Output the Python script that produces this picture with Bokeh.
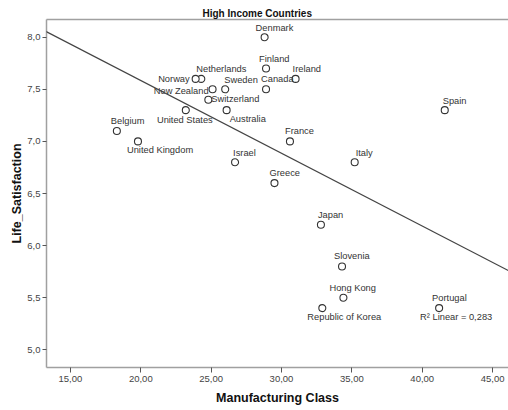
import numpy as np
from bokeh.plotting import figure
from bokeh.models import (ColumnDataSource, LinearAxis, FixedTicker, Slope, Label,
                          CustomJSTickFormatter)
from bokeh.core.properties import value
from bokeh.embed import file_html
from bokeh.resources import INLINE

# --- data -------------------------------------------------------------
countries = ["Denmark", "Finland", "Ireland", "Canada", "Netherlands", "Norway",
             "Sweden", "New Zealand", "Switzerland", "Australia", "United States",
             "Belgium", "United Kingdom", "Israel", "France", "Italy", "Greece",
             "Spain", "Japan", "Slovenia", "Hong Kong", "Republic of Korea", "Portugal"]
manufacturing = [28.8, 28.9, 31.0, 28.9, 24.3, 23.9,
                 26.0, 25.1, 24.8, 26.1, 23.2,
                 18.3, 19.8, 26.7, 30.6, 35.2, 29.5,
                 41.6, 32.8, 34.3, 34.4, 32.9, 41.2]
life_satisfaction = [8.0, 7.7, 7.6, 7.5, 7.6, 7.6,
                     7.5, 7.5, 7.4, 7.3, 7.3,
                     7.1, 7.0, 6.8, 7.0, 6.8, 6.6,
                     7.3, 6.2, 5.8, 5.5, 5.4, 5.4]
x_ticks = [15, 20, 25, 30, 35, 40, 45]
y_ticks = [5.0, 5.5, 6.0, 6.5, 7.0, 7.5, 8.0]
r2_text = "R\u00b2 Linear = 0,283"

# --- label placement (pixel offsets from each point) ------------------
label_layout = {
    "Denmark": (-9, -9, "left"), "Finland": (-7, -9, "left"),
    "Ireland": (-3, -10, "left"), "Canada": (-5, -10, "left"),
    "Netherlands": (-5, -10, "left"), "Norway": (-6, 0, "right"),
    "Sweden": (-1, -9, "left"), "New Zealand": (-4, 2, "right"),
    "Switzerland": (3, -1, "left"), "Australia": (3, 9, "left"),
    "United States": (-1, 10, "center"), "Belgium": (-6, -10, "left"),
    "United Kingdom": (-11, 9, "left"), "Israel": (-2, -9, "left"),
    "France": (-5, -10, "left"), "Italy": (1, -9, "left"),
    "Greece": (-5, -10, "left"), "Spain": (-2, -9, "left"),
    "Japan": (-3, -10, "left"), "Slovenia": (-8, -10, "left"),
    "Hong Kong": (-14, -10, "left"), "Republic of Korea": (-15, 9, "left"),
    "Portugal": (-7, -10, "left"),
}

FONT = "Liberation Sans"
AXIS_GREY = "#a0a0a0"
INK = "#333333"

src = ColumnDataSource(dict(
    name=countries, x=manufacturing, y=life_satisfaction,
    dx=[label_layout[c][0] for c in countries],
    dy=[label_layout[c][1] for c in countries],
    align=[label_layout[c][2] for c in countries],
))

p = figure(width=508, height=410, output_backend="svg", toolbar_location=None,
           x_range=(13.3, 46.13), y_range=(4.83, 8.17),
           min_border_left=46, min_border_right=0, min_border_top=19,
           min_border_bottom=43, background_fill_color="white",
           border_fill_color="white", outline_line_color=None)

p.title.text = "High Income Countries"
p.title.text_font = FONT
p.title.text_font_size = "10px"
p.title.text_font_style = "bold"
p.title.text_color = "#111111"
p.title.align = "left"
p.title.offset = 156
p.title.standoff = 1

p.xgrid.grid_line_color = None
p.ygrid.grid_line_color = None

xa = p.below[0]
ya = p.left[0]

for ax in (xa, ya):
    ax.axis_line_color = AXIS_GREY
    ax.axis_line_width = 1.5
    ax.major_tick_line_color = "#555555"
    ax.major_tick_in = 0
    ax.minor_tick_line_color = None
    ax.major_label_text_font = FONT
    ax.major_label_text_font_size = "9.5px"
    ax.major_label_text_color = "#444444"
    ax.axis_label_text_font = FONT
    ax.axis_label_text_font_size = "12.5px"
    ax.axis_label_text_font_style = "bold"
    ax.axis_label_text_color = "#111111"

xa.ticker = FixedTicker(ticks=x_ticks)
ya.ticker = FixedTicker(ticks=y_ticks)
xa.formatter = CustomJSTickFormatter(code="return tick.toFixed(2).replace('.', ',');")
ya.formatter = CustomJSTickFormatter(code="return tick.toFixed(1).replace('.', ',');")
xa.major_tick_out = 5
ya.major_tick_out = 4
xa.major_label_standoff = 3
ya.major_label_standoff = 2
xa.axis_label = "Manufacturing Class"
ya.axis_label = "Life_Satisfaction"
xa.axis_label_standoff = 6
ya.axis_label_standoff = 0

# top frame line drawn as a bare axis
top = LinearAxis(ticker=FixedTicker(ticks=[]), axis_line_color=AXIS_GREY,
                 axis_line_width=1.5, major_tick_out=0, major_tick_in=0,
                 minor_tick_line_color=None, major_label_standoff=0)
p.add_layout(top, "above")

# least-squares fit line
slope, intercept = np.polyfit(manufacturing, life_satisfaction, 1)
p.add_layout(Slope(gradient=slope, y_intercept=intercept,
                   line_color="#444444", line_width=1.2))

p.scatter("x", "y", source=src, marker="circle", size=7,
          fill_color="white", line_color="#333333", line_width=1.1)

p.text("x", "y", text="name", source=src, x_offset="dx", y_offset="dy",
       text_align="align", text_baseline="middle",
       text_font=value(FONT), text_font_size="9.3px", text_color=INK)

i_pt = countries.index("Portugal")
p.add_layout(Label(x=manufacturing[i_pt], y=life_satisfaction[i_pt],
                   x_offset=-19, y_offset=-9, text=r2_text,
                   text_align="left", text_baseline="middle",
                   text_font=FONT, text_font_size="9.3px", text_color=INK))

open("out.html", "w").write(file_html(p, INLINE))
